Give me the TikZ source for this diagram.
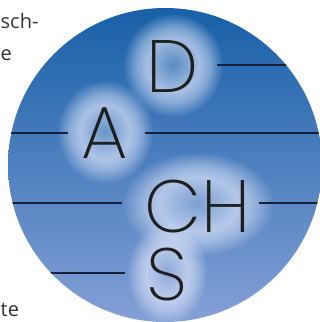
\documentclass[tikz,border=0pt]{standalone}
\usepackage{fontspec}
\setmainfont{Open Sans}
\newfontfamily\dachfont{Poppins ExtraLight}
\usetikzlibrary{fadings}

\definecolor{disctop}{RGB}{24,96,168}
\definecolor{discbot}{RGB}{132,160,214}
\definecolor{rule}{RGB}{22,32,58}
\definecolor{haze}{RGB}{222,230,250}

% soft ring glow behind the letters
\pgfdeclareradialshading{glowring}{\pgfpointorigin}{color(0bp)=(pgftransparent!75); color(13bp)=(pgftransparent!32); color(18bp)=(pgftransparent!52); color(25bp)=(pgftransparent!100); color(50bp)=(pgftransparent!100)}
\pgfdeclarefading{glowfade}{\pgfuseshading{glowring}}

\begin{document}
\begin{tikzpicture}[x=1pt, y=-1pt,
    l/.style={font=\dachfont\fontsize{74}{74}\selectfont, text=black!88, inner sep=0pt, anchor=base, text height=54pt, text depth=0pt},
    g/.style={fill=haze, path fading=glowfade},
    r/.style={line width=1.3pt, rule},
    t/.style={font=\fontsize{20}{24}\selectfont, text=black!80, inner sep=0pt},
]
\useasboundingbox (0,0) rectangle (320,322);

% disc
\shade[top color=disctop, bottom color=discbot] (165,165) circle (157pt);

\begin{scope}
\clip (165,165) circle (157pt);
\fill[g] (173,65) ellipse (50pt and 52pt);
\fill[g] (105,132) ellipse (48pt and 52pt);
\fill[g] (198,204) ellipse (76pt and 52pt);
\fill[g] (167,273) ellipse (40pt and 52pt);

\coordinate (d1) at (217,65);  \coordinate (d2) at (320,65);
\coordinate (a1) at (0,133);   \coordinate (a2) at (68,133);
\coordinate (a3) at (145,133); \coordinate (a4) at (320,133);
\coordinate (ch1) at (0,203);  \coordinate (ch2) at (122,203);
\coordinate (ch3) at (259,203); \coordinate (ch4) at (320,203);
\coordinate (s1) at (0,273);   \coordinate (s2) at (125,273);
\draw[r] (d1) -- (d2);
\draw[r] (a1) -- (a2);
\draw[r] (a3) -- (a4);
\draw[r] (ch1) -- (ch2);
\draw[r] (ch3) -- (ch4);
\draw[r] (s1) -- (s2);
\end{scope}

\node[l] (d) at (173,92) {D};
\node[l] (a) at (105,158) {A};
\node[l] (ch) at (198,232) {CH};
\node[l] (s) at (167,300) {S};

% words of the running text beside the disc
\node[t, anchor=base west] (frag1) at (0.5,28) {sch-};
\node[t, anchor=base west] (frag2) at (0.5,60) {e};
\node[t, anchor=base west] (frag3) at (0.5,316) {te};
\end{tikzpicture}
\end{document}
